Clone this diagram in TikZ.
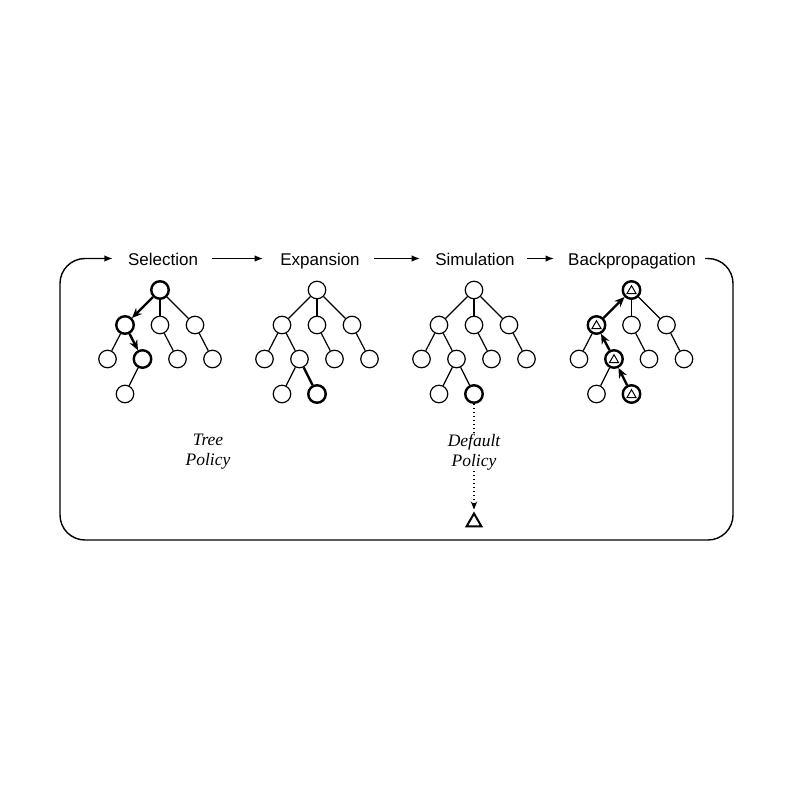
\documentclass[tikz,border=0pt]{standalone}
\usepackage{fontspec}
\setmainfont{Liberation Sans}
\newfontfamily\serifit{Liberation Serif}
\usetikzlibrary{arrows.meta,shapes.geometric}
\begin{document}
\begin{tikzpicture}[x=1pt,y=-1pt,
 nd/.style={circle,draw,line width=1.2pt,minimum size=17.5pt,inner sep=0pt,fill=white},
 bnd/.style={nd,line width=2.4pt},
 tnd/.style={bnd,path picture={\draw[line width=1pt] (path picture bounding box.center) ++(0,-4.3) -- ++(4.6,8) -- ++(-9.2,0) -- cycle;}},
 ed/.style={line width=1.2pt},
 bed/.style={line width=2.4pt},
 arr/.style={line width=2.4pt,-{Stealth[length=10pt,width=8.5pt]}},
 lab/.style={font=\fontsize{17}{20}\selectfont,inner sep=0pt,text height=13pt,text depth=0pt,anchor=base},
 pol/.style={font=\fontsize{17.5}{20}\selectfont\serifit\itshape,align=center,inner sep=1pt},
 flow/.style={line width=1.4pt,-{Latex[length=8.5pt,width=6.5pt]}},
 dots/.style={line width=1.2pt,dash pattern=on 1.2pt off 2.8pt}]
\useasboundingbox (0,0) rectangle (800,800);
% labels
\node[lab] (sel) at (163,265) {Selection};
\node[lab] (exp) at (320,265) {Expansion};
\node[lab] (sim) at (475,265) {Simulation};
\node[lab] (bp) at (632,265) {Backpropagation};
\draw[flow,shorten <=14pt,shorten >=17pt] (sel) -- (exp);
\draw[flow,shorten <=14pt,shorten >=15pt] (exp) -- (sim);
\draw[flow,shorten <=12pt,shorten >=14pt] (sim) -- (bp);
\coordinate (br) at (733,540);
\coordinate (bl) at (60,540);
\draw[flow,rounded corners=25pt] ([xshift=9pt]bp.east) -| (br) -- (bl) |- ([xshift=-15pt]sel.west);
% Selection tree
\node[bnd] (s-r) at (160,290) {};
\node[bnd] (s-a) at (125,325) {};
\node[nd] (s-b) at (160,325) {};
\node[nd] (s-c) at (195,325) {};
\node[nd] (s-aa) at (107.5,359) {};
\node[bnd] (s-ab) at (142.5,359) {};
\node[nd] (s-ba) at (177.5,359) {};
\node[nd] (s-ca) at (212.5,359) {};
\node[nd] (s-aba) at (125,394) {};
\draw[arr] (s-r) -- (s-a);
\draw[ed] (s-r) -- (s-b);
\draw[ed] (s-r) -- (s-c);
\draw[ed] (s-a) -- (s-aa);
\draw[arr] (s-a) -- (s-ab);
\draw[ed] (s-b) -- (s-ba);
\draw[ed] (s-c) -- (s-ca);
\draw[ed] (s-ab) -- (s-aba);
% Expansion tree
\node[nd] (e-r) at (317,290) {};
\node[nd] (e-a) at (282,325) {};
\node[nd] (e-b) at (317,325) {};
\node[nd] (e-c) at (352,325) {};
\node[nd] (e-aa) at (264.5,359) {};
\node[nd] (e-ab) at (299.5,359) {};
\node[nd] (e-ba) at (334.5,359) {};
\node[nd] (e-ca) at (369.5,359) {};
\node[nd] (e-aba) at (282,394) {};
\node[bnd] (e-abb) at (317,394) {};
\draw[ed] (e-r) -- (e-a);
\draw[ed] (e-r) -- (e-b);
\draw[ed] (e-r) -- (e-c);
\draw[ed] (e-a) -- (e-aa);
\draw[ed] (e-a) -- (e-ab);
\draw[ed] (e-b) -- (e-ba);
\draw[ed] (e-c) -- (e-ca);
\draw[ed] (e-ab) -- (e-aba);
\draw[bed] (e-ab) -- (e-abb);
% Simulation tree
\node[nd] (m-r) at (474,290) {};
\node[nd] (m-a) at (439,325) {};
\node[nd] (m-b) at (474,325) {};
\node[nd] (m-c) at (509,325) {};
\node[nd] (m-aa) at (421.5,359) {};
\node[nd] (m-ab) at (456.5,359) {};
\node[nd] (m-ba) at (491.5,359) {};
\node[nd] (m-ca) at (526.5,359) {};
\node[nd] (m-aba) at (439,394) {};
\node[bnd] (m-abb) at (474,394) {};
\draw[ed] (m-r) -- (m-a);
\draw[ed] (m-r) -- (m-b);
\draw[ed] (m-r) -- (m-c);
\draw[ed] (m-a) -- (m-aa);
\draw[ed] (m-a) -- (m-ab);
\draw[ed] (m-b) -- (m-ba);
\draw[ed] (m-c) -- (m-ca);
\draw[ed] (m-ab) -- (m-aba);
\draw[ed] (m-ab) -- (m-abb);
\node[pol] (dp) at (474,452) {Default\\Policy};
\node[draw,regular polygon,regular polygon sides=3,minimum size=17pt,inner sep=0pt,line width=2pt] (t) at (474,522) {};
\draw[dots] (m-abb) -- (dp);
\draw[dots,-{Stealth[length=8pt,width=6.5pt]},shorten >=2pt] (dp) -- (t);
% Tree policy
\node[pol] (tp) at (208,452) {Tree\\Policy};
% Backpropagation tree
\node[tnd] (b-r) at (631.5,290) {};
\node[tnd] (b-a) at (596.5,325) {};
\node[nd] (b-b) at (631.5,325) {};
\node[nd] (b-c) at (666.5,325) {};
\node[nd] (b-aa) at (579,359) {};
\node[tnd] (b-ab) at (614,359) {};
\node[nd] (b-ba) at (649,359) {};
\node[nd] (b-ca) at (684,359) {};
\node[nd] (b-aba) at (596.5,394) {};
\node[tnd] (b-abb) at (631.5,394) {};
\draw[arr] (b-a) -- (b-r);
\draw[ed] (b-r) -- (b-b);
\draw[ed] (b-r) -- (b-c);
\draw[ed] (b-a) -- (b-aa);
\draw[arr] (b-ab) -- (b-a);
\draw[ed] (b-b) -- (b-ba);
\draw[ed] (b-c) -- (b-ca);
\draw[ed] (b-ab) -- (b-aba);
\draw[arr] (b-abb) -- (b-ab);
\end{tikzpicture}
\end{document}
